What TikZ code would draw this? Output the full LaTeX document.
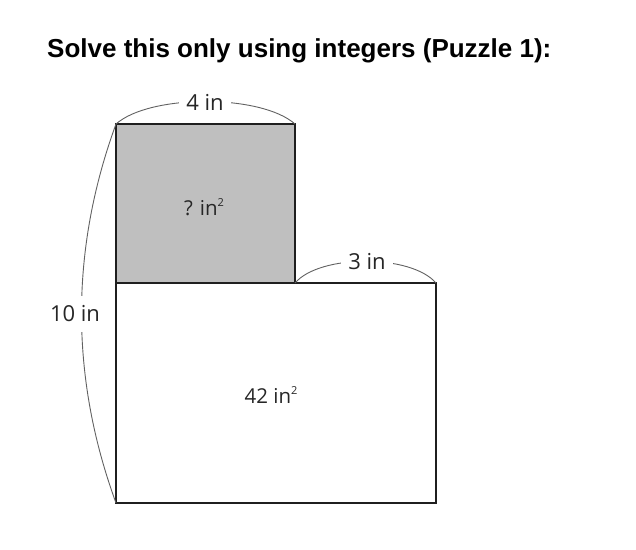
\documentclass[tikz,border=0pt]{standalone}
\usepackage{fontspec}
\setmainfont{Open Sans}
\newfontfamily\titlefont{Liberation Sans}
\newcommand{\sqsup}{\raisebox{0.85ex}{\fontsize{11}{11}\selectfont 2}}
\begin{document}
\begin{tikzpicture}[x=1pt,y=-1pt,
  outline/.style={draw=black!88,line width=1.8pt},
  dim/.style={draw=black!62,line width=0.9pt},
  lab/.style={fill=white,inner xsep=7pt,inner ysep=3pt,font=\fontsize{22}{24}\selectfont,text=black!85},
  area/.style={inner sep=0pt,font=\fontsize{20.5}{24}\selectfont,text=black!85}]
\useasboundingbox (0,0) rectangle (636,549);
\node[font=\titlefont\bfseries\fontsize{26}{30}\selectfont,anchor=west,inner sep=0pt] (title) at (47,51) {Solve this only using integers (Puzzle 1):};
\coordinate (tl) at (116,124);
\coordinate (tr) at (295,124);
\coordinate (ml) at (116,283);
\coordinate (mm) at (295,283);
\coordinate (mr) at (436,283);
\coordinate (bl) at (116,503);
\coordinate (br) at (436,503);
\fill[black!25] (tl) rectangle (mm);
\draw[outline] (tl) -- (tr) -- (mm) -- (mr) -- (br) -- (bl) -- cycle;
\draw[outline] (ml) -- (mm);
\draw[dim] (tl) .. controls (150,94) and (261,94) .. (tr);
\draw[dim] (mm) .. controls (320,254) and (411,254) .. (mr);
\draw[dim] (tl) .. controls (70,250) and (70,377) .. (bl);
\node[lab] (w4) at (205,102) {4 in};
\node[lab] (w3) at (367,262) {3 in};
\node[lab,inner xsep=1pt,inner ysep=10pt] (h10) at (75,314) {10 in};
\node[area] (qa) at (204,207) {? in\sqsup};
\node[area] (a42) at (271,395) {42 in\sqsup};
\end{tikzpicture}
\end{document}
